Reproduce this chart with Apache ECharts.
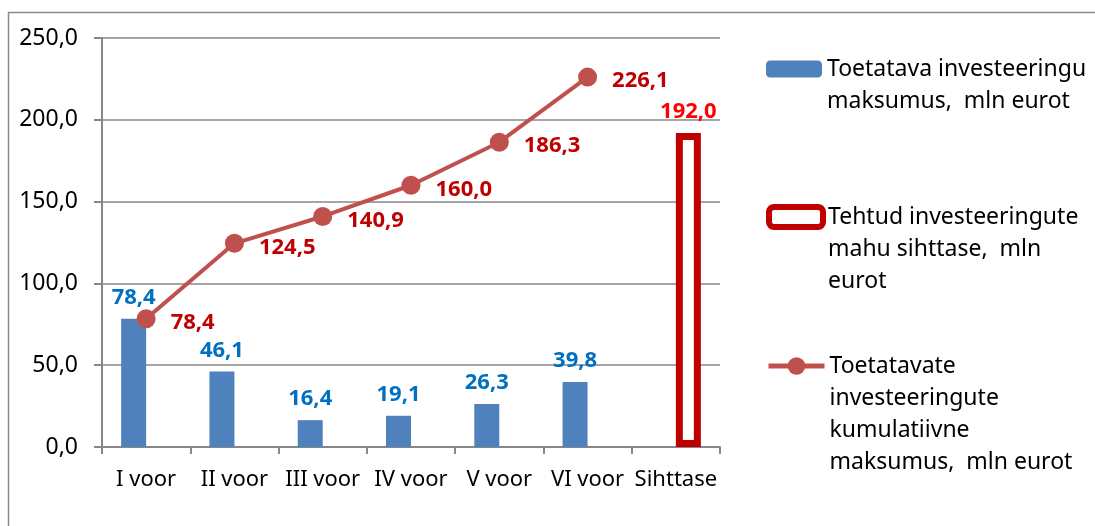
<!DOCTYPE html>
<html>
<head>
<meta charset="utf-8">
<script src="https://cdn.jsdelivr.net/npm/echarts@6/dist/echarts.min.js"></script>
<style>
  html, body { margin: 0; padding: 0; background: #fff; }
  #chart { width: 1095px; height: 526px; }
</style>
</head>
<body>
<div id="chart"></div>
<script>
// andmed
var categories = ["I voor", "II voor", "III voor", "IV voor", "V voor", "VI voor", "Sihttase"];
var toetatav = [78.4, 46.1, 16.4, 19.1, 26.3, 39.8, null];
var sihttase = [null, null, null, null, null, null, 192.0];
var kumulatiivne = [78.4, 124.5, 140.9, 160.0, 186.3, 226.1, null];
var yTicks = [0, 50, 100, 150, 200, 250];

var names = [
  "Toetatava investeeringu\nmaksumus,  mln eurot",
  "Tehtud investeeringute\nmahu sihttase,  mln\neurot",
  "Toetatavate\ninvesteeringute\nkumulatiivne\nmaksumus,  mln eurot"
];

var font = "Noto Sans";
var lineH = 32;

function koma(v) {
  return Number(v).toFixed(1).replace(".", ",");
}

// legend, üks plokk iga seeria jaoks (ikoon esimese rea kõrval)
function legendBlock(name, top, w, h, extra) {
  var lines = name.split("\n").length;
  var pad = new Array(lines).join("\n");
  var lg = {
    data: [name],
    left: 766,
    top: top,
    padding: 0,
    itemWidth: w,
    itemHeight: h,
    selectedMode: false,
    formatter: function (n) { return pad + n; },
    textStyle: {
      fontFamily: font,
      fontSize: 23,
      color: "#000",
      lineHeight: lineH
    }
  };
  for (var k in extra) lg[k] = extra[k];
  return lg;
}

var myChart = echarts.init(document.getElementById("chart"));
var option = {
  animation: false,
  backgroundColor: "#fff",
  textStyle: { fontFamily: font },
  graphic: [{
    type: "rect",
    shape: { x: 8.5, y: 12.5, width: 1300, height: 700 },
    style: { fill: "none", stroke: "#8a8a8a", lineWidth: 1.5 },
    silent: true
  }],
  legend: [
    legendBlock(names[0], 21, 56, 17, {}),
    legendBlock(names[1], 137, 54, 20, { itemStyle: { borderWidth: 6 } }),
    legendBlock(names[2], 254, 56, 22, { lineStyle: { width: 5 } })
  ],
  grid: {
    left: 102,
    right: 375,
    top: 38,
    bottom: 79
  },
  xAxis: {
    type: "category",
    data: categories,
    axisLine: { lineStyle: { color: "#878787", width: 2 } },
    axisTick: { show: true, length: 7, lineStyle: { color: "#878787", width: 2 } },
    axisLabel: { color: "#000", fontSize: 22, fontFamily: font, margin: 22, interval: 0 }
  },
  yAxis: {
    type: "value",
    min: 0,
    max: 250,
    interval: 50,
    axisLine: { show: true, lineStyle: { color: "#878787", width: 2 } },
    axisTick: { show: true, inside: false, length: 8, lineStyle: { color: "#878787", width: 2 } },
    axisLabel: {
      color: "#000",
      fontSize: 23,
      fontFamily: font,
      margin: 24,
      formatter: function (v) {
        return yTicks.indexOf(v) >= 0 ? koma(v) : "";
      }
    },
    splitLine: { lineStyle: { color: "#878787", width: 1.5 } }
  },
  series: [
    {
      name: names[0],
      type: "bar",
      data: toetatav,
      barWidth: 25,
      barGap: "0%",
      itemStyle: { color: "#4F81BD" },
      label: {
        show: true,
        position: "top",
        distance: 10,
        color: "#0070C0",
        fontWeight: "bold",
        fontSize: 22,
        fontFamily: font,
        formatter: function (p) { return koma(p.value); }
      }
    },
    {
      name: names[1],
      type: "bar",
      data: sihttase,
      barWidth: 25,
      barGap: "0%",
      itemStyle: { color: "#fff", borderColor: "#C00000", borderWidth: 7 },
      label: {
        show: true,
        position: "top",
        distance: 10,
        color: "#FF0000",
        fontWeight: "bold",
        fontSize: 22,
        fontFamily: font,
        formatter: function (p) { return koma(p.value); }
      }
    },
    {
      name: names[2],
      type: "line",
      data: kumulatiivne,
      symbol: "circle",
      symbolSize: 19,
      lineStyle: { color: "#C0504D", width: 4 },
      itemStyle: { color: "#C0504D" },
      label: {
        show: true,
        position: "right",
        distance: 15,
        offset: [0, 4],
        color: "#C00000",
        fontWeight: "bold",
        fontSize: 22,
        fontFamily: font,
        formatter: function (p) { return koma(p.value); }
      },
      z: 5
    }
  ]
};
myChart.setOption(option);
</script>
</body>
</html>
